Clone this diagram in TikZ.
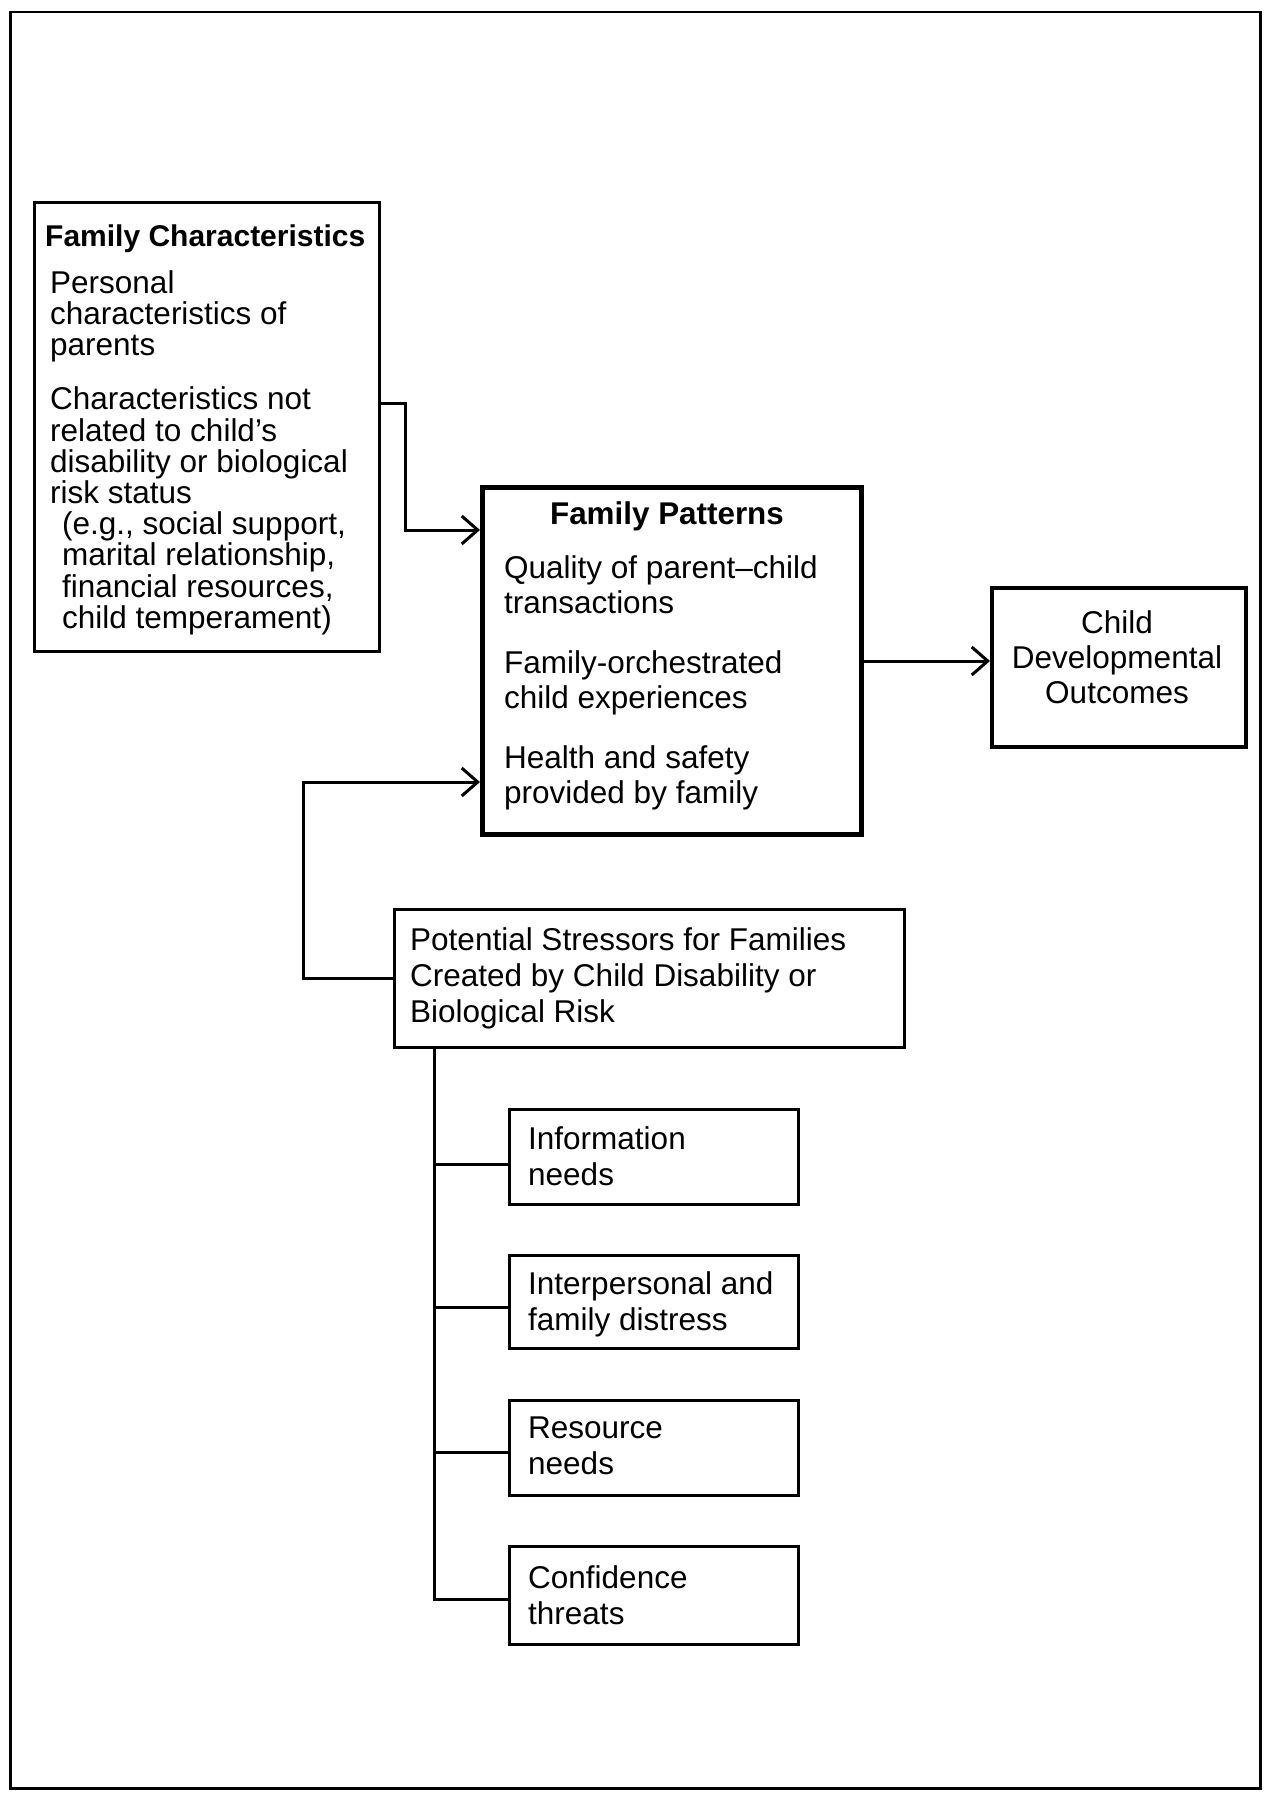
\documentclass[tikz,border=0pt]{standalone}
\usepackage{fontspec}
\setmainfont{Liberation Sans}
\usetikzlibrary{arrows.meta}
\begin{document}
\begin{tikzpicture}[x=1pt,y=-1pt,
  box/.style={draw, line width=3pt, inner sep=0pt, anchor=north west},
  txt/.style={inner sep=0pt, anchor=north west, align=left, font=\fontsize{31.5}{35}\selectfont},
  conn/.style={line width=3pt},
  arr/.style={line width=3pt, -{Straight Barb[length=16pt,width=28pt,line width=3pt]}}]
\useasboundingbox (0,0) rectangle (1265,1795);
\fill[white] (0,0) rectangle (1265,1795);
% outer frame
\node[box, line width=2.5pt, minimum width=1250, minimum height=1776] (frame) at (9,11) {};
% boxes
\node[box, minimum width=345, minimum height=449] (fc) at (33,201) {};
\node[box, line width=4.5pt, minimum width=379, minimum height=347] (fp) at (480,485) {};
\node[box, line width=4pt, minimum width=254, minimum height=159] (cdo) at (990,586) {};
\node[box, line width=2.6pt, minimum width=510, minimum height=138] (ps) at (393,908) {};
\node[box, minimum width=289, minimum height=95] (info) at (508,1108) {};
\node[box, minimum width=289, minimum height=93] (interp) at (508,1254) {};
\node[box, minimum width=289, minimum height=95] (res) at (508,1399) {};
\node[box, minimum width=289, minimum height=98] (conf) at (508,1545) {};
% texts
\node[txt, font=\fontsize{30}{31}\selectfont\bfseries] (fct) at (45,224.5) {Family Characteristics};
\node[txt, font=\fontsize{31.5}{31.2}\selectfont] (fcb) at (50,270.5) {Personal\\characteristics of\\parents\\[22.8pt]Characteristics not\\related to child's\\disability or biological\\risk status\\\hspace*{12pt}(e.g., social support,\\\hspace*{12pt}marital relationship,\\\hspace*{12pt}financial resources,\\\hspace*{12pt}child temperament)};
\node[txt, anchor=north, align=center, font=\fontsize{31.4}{35}\selectfont\bfseries] (fpt) at (667,501.7) {Family Patterns};
\node[txt, font=\fontsize{31.5}{34.5}\selectfont] (fpb) at (504,555.5) {Quality of parent--child\\transactions\\[26pt]Family-orchestrated\\child experiences\\[26pt]Health and safety\\provided by family};
\node[txt, anchor=north, align=center] (cdot) at (1117,610.5) {Child\\Developmental\\Outcomes};
\node[txt, font=\fontsize{31.5}{36}\selectfont] (pst) at (410,927.5) {Potential Stressors for Families\\Created by Child Disability or\\Biological Risk};
\node[txt, font=\fontsize{31.5}{36}\selectfont] (infot) at (528,1126.5) {Information\\needs};
\node[txt, font=\fontsize{31.5}{36}\selectfont] (interpt) at (528,1271.5) {Interpersonal and\\family distress};
\node[txt, font=\fontsize{31.5}{36}\selectfont] (rest) at (528,1416.5) {Resource\\needs};
\node[txt, font=\fontsize{31.5}{36}\selectfont] (conft) at (528,1565.5) {Confidence\\threats};
% connectors
\coordinate (j1) at (405,403);
\coordinate (j2) at (405,530);
\draw[arr] (fc.east |- j1) -- (j1) -- (j2) -- (fp.west |- j2);
\coordinate (j3) at (920,661);
\draw[arr] (fp.east |- j3) -- (cdo.west |- j3);
\coordinate (j4) at (303,782);
\draw[arr] (ps.west) -| (j4) -- (fp.west |- j4);
\coordinate (tk) at (434,1599);
\draw[conn] (ps.south -| tk) -- (tk) -- (conf.west |- tk);
\coordinate (b1) at (434,1164);
\coordinate (b2) at (434,1307);
\coordinate (b3) at (434,1452);
\draw[conn] (b1) -- (info.west |- b1);
\draw[conn] (b2) -- (interp.west |- b2);
\draw[conn] (b3) -- (res.west |- b3);
\end{tikzpicture}
\end{document}
